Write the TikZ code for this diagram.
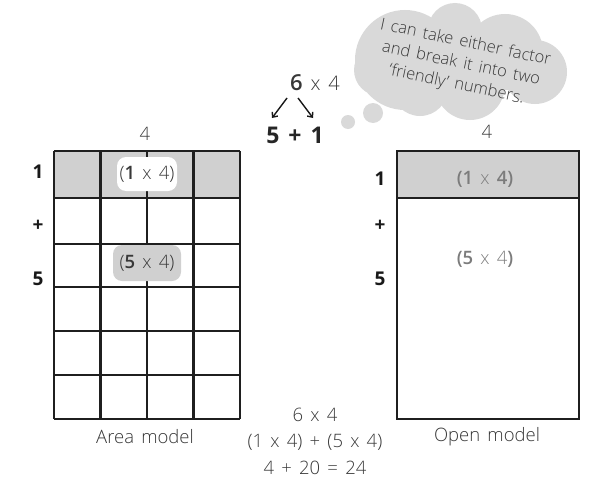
\documentclass[tikz,border=0pt]{standalone}
\usepackage{fontspec}
\setmainfont{Open Sans}[WordSpace=1.5]
\newfontfamily\lt{Open Sans Light}[WordSpace=1.5]
\usetikzlibrary{arrows.meta}
\definecolor{cellgray}{HTML}{D0D0D0}
\definecolor{cloudgray}{HTML}{D9D9D9}
\definecolor{txt}{HTML}{383838}
\definecolor{midgray}{HTML}{7C7C7C}
\begin{document}
\begin{tikzpicture}[x=1pt,y=-1pt,
  gridline/.style={line width=2.4pt, draw=black!88},
  sidelbl/.style={font=\fontsize{19}{22}\selectfont\bfseries, text=black!90, inner sep=0pt},
  lighttxt/.style={font=\fontsize{18.5}{22}\selectfont\lt, text=txt, inner sep=0pt},
  splitarrow/.style={line width=1.4pt, draw=black!90, -{Straight Barb[length=4pt,width=7pt]}}]
\useasboundingbox (0,0) rectangle (596,487);

% thought cloud
\fill[cloudgray] (405,60) circle[radius=50] (455,30) circle[radius=27]
  (505,52) circle[radius=38] (535,72) circle[radius=32]
  (470,85) circle[radius=35] (420,88) circle[radius=28] (380,70) circle[radius=26];
\fill[cloudgray] (373,113) circle[radius=10] (348,122) circle[radius=7];
\node[lighttxt, rotate=-12, align=center, font=\fontsize{16.5}{21.5}\selectfont\lt] (cloudtext) at (461,64)
  {I can take either factor\\and break it into two\\‘friendly’ numbers.};

% area model
\fill[cellgray] (54,151) rectangle (240,198);
\foreach \x in {54,100.5,147,193.5,240} \draw[gridline] (\x,151) -- (\x,419);
\foreach \y in {151,198,244,287,331,375,419} \draw[gridline] (54,\y) -- (240,\y);
\fill[white, rounded corners=9pt] (117,157) rectangle (177,191);
\node[lighttxt] (a1) at (147,174) {(\textbf{1} x 4)};
\fill[cellgray, rounded corners=9pt] (113,245) rectangle (181,281);
\node[lighttxt] (a5) at (147,263) {(\textbf{5} x 4)};

\node[lighttxt] (atop) at (145,134) {4};
\node[sidelbl] (al1) at (38,172) {1};
\node[sidelbl] (alp) at (38,226) {+};
\node[sidelbl] (al5) at (38,279) {5};
\node[lighttxt] (aname) at (145,437) {Area model};

% open model
\fill[cellgray] (397,151) rectangle (579,198);
\draw[gridline] (397,151) rectangle (579,419);
\draw[gridline] (397,198) -- (579,198);
\node[lighttxt, text=midgray] (o1) at (485,179) {\textbf{(1} x \textbf{4)}};
\node[lighttxt, text=midgray] (o5) at (485,259) {\textbf{(5} x 4\textbf{)}};
\node[lighttxt] (otop) at (487,132) {4};
\node[sidelbl] (ol1) at (380,179) {1};
\node[sidelbl] (olp) at (380,226) {+};
\node[sidelbl] (ol5) at (380,279) {5};
\node[lighttxt] (oname) at (487,437) {Open model};

% factor split
\node[lighttxt, font=\fontsize{20}{22}\selectfont\lt] (six) at (315,83) {{\fontsize{22}{24}\selectfont\textbf{6}} x 4};
\node[sidelbl, font=\fontsize{23}{26}\selectfont\bfseries, text=black!85] (split) at (295,135) {5 + 1};
\coordinate (la) at (287,98);
\coordinate (lb) at (272,118);
\coordinate (ra) at (298,98);
\coordinate (rb) at (313,118);
\draw[splitarrow] (la) -- (lb);
\draw[splitarrow] (ra) -- (rb);

% bottom equations
\node[lighttxt, align=center, font=\fontsize{18.5}{26.5}\selectfont\lt] (eq) at (315,441)
  {6 x 4\\(1 x 4) + (5 x 4)\\4 + 20 = 24};
\end{tikzpicture}
\end{document}
